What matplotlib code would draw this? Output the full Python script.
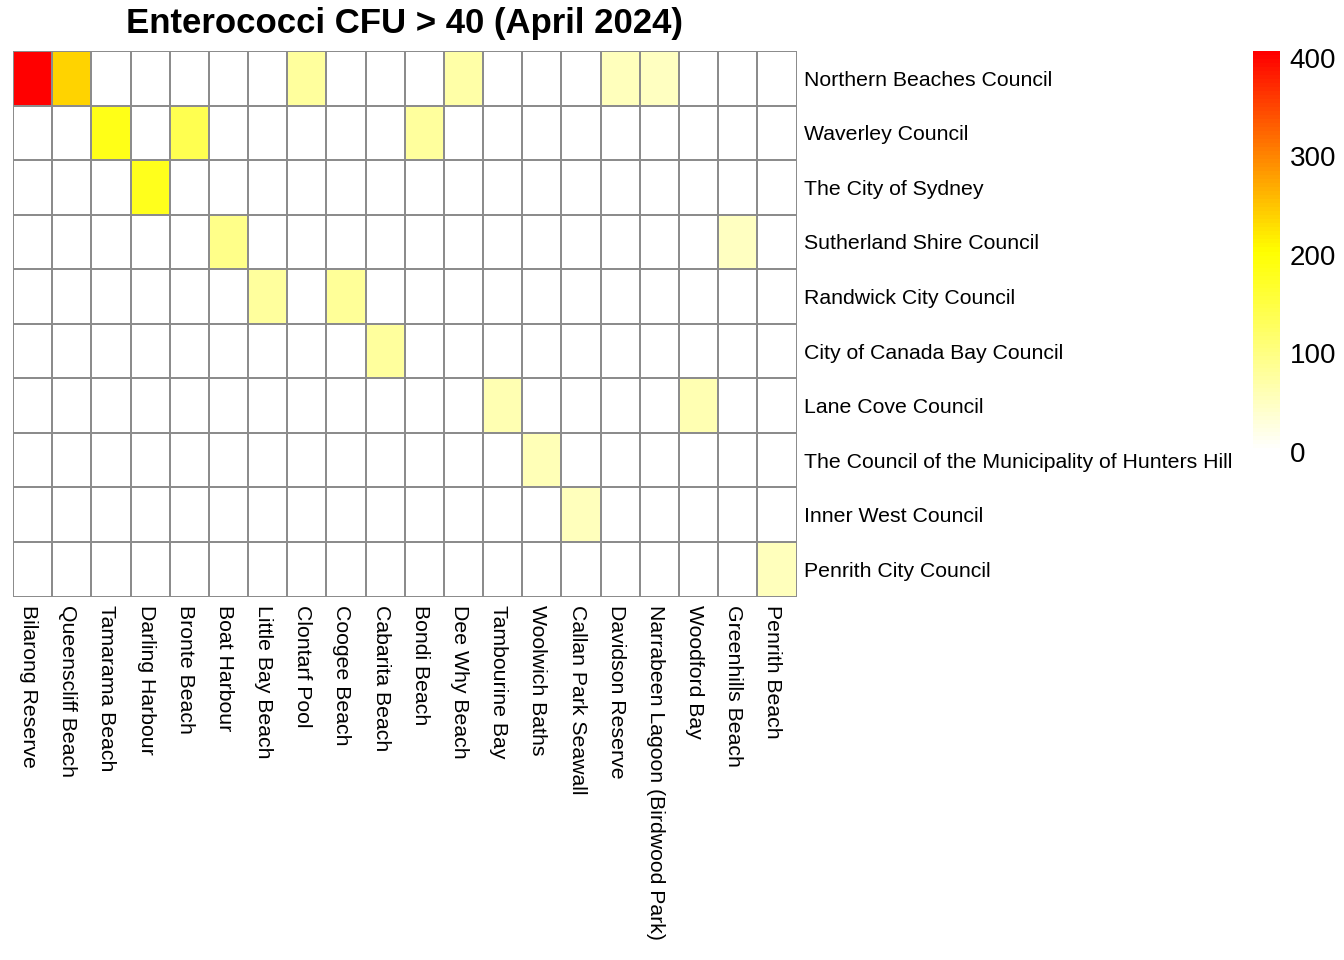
import numpy as np
import matplotlib
matplotlib.use("Agg")
import matplotlib.pyplot as plt
from matplotlib.colors import LinearSegmentedColormap
from matplotlib.transforms import ScaledTranslation

plt.rcParams["font.family"] = ["Liberation Sans", "DejaVu Sans"]

beaches = ["Bilarong Reserve", "Queenscliff Beach", "Tamarama Beach", "Darling Harbour",
           "Bronte Beach", "Boat Harbour", "Little Bay Beach", "Clontarf Pool",
           "Coogee Beach", "Cabarita Beach", "Bondi Beach", "Dee Why Beach",
           "Tambourine Bay", "Woolwich Baths", "Callan Park Seawall", "Davidson Reserve",
           "Narrabeen Lagoon (Birdwood Park)", "Woodford Bay", "Greenhills Beach", "Penrith Beach"]
councils = ["Northern Beaches Council", "Waverley Council", "The City of Sydney",
            "Sutherland Shire Council", "Randwick City Council", "City of Canada Bay Council",
            "Lane Cove Council", "The Council of the Municipality of Hunters Hill",
            "Inner West Council", "Penrith City Council"]

# one row per council, only the non-zero beaches
northern = {0: 407, 1: 240, 7: 80, 11: 70, 15: 55, 16: 50}
waverley = {2: 185, 4: 140, 10: 80}
sydney = {3: 180}
sutherland = {5: 95, 18: 50}
randwick = {6: 80, 8: 85}
canada_bay = {9: 80}
lane_cove = {12: 65, 17: 65}
hunters_hill = {13: 60}
inner_west = {14: 55}
penrith = {19: 55}
rows = [northern, waverley, sydney, sutherland, randwick, canada_bay,
        lane_cove, hunters_hill, inner_west, penrith]

vals = np.zeros((len(councils), len(beaches)))
for i, r in enumerate(rows):
    for j, v in r.items():
        vals[i, j] = v

vmax = 407
cmap = LinearSegmentedColormap.from_list("wyr", ["white", "yellow", "red"], N=100)
W, H = 1344, 960


def box(x0, y0, x1, y1):
    return [x0 / W, 1 - y1 / H, (x1 - x0) / W, (y1 - y0) / H]


fig = plt.figure(figsize=(13.44, 9.6), dpi=100)
ax = fig.add_axes(box(13, 51, 796.5, 596.5))
mesh = ax.pcolormesh(vals, cmap=cmap, vmin=0, vmax=vmax, edgecolors="#8c8c8c", linewidth=1.4)
ax.invert_yaxis()
for s in ax.spines.values():
    s.set_visible(False)

ax.yaxis.tick_right()
ax.set_yticks(np.arange(len(councils)) + 0.5, councils, fontsize=15.3)
ax.set_xticks(np.arange(len(beaches)) + 0.5, beaches, fontsize=15.3, rotation=270)
ax.tick_params(axis="y", length=0, pad=5.2)
ax.tick_params(axis="x", length=0, pad=5.8)

# rotated labels sit a few px left of the cell centre
shift = ScaledTranslation(-4 / 100, 0, fig.dpi_scale_trans)
for lab in ax.get_xticklabels():
    lab.set_transform(lab.get_transform() + shift)

ax.set_title("Enterococci CFU > 40 (April 2024)", fontsize=25, fontweight="bold", pad=13)

cax = fig.add_axes(box(1253, 51, 1280, 452))
cb = fig.colorbar(mesh, cax=cax)
cb.outline.set_visible(False)
cb.set_ticks([0, 100, 200, 300, 400])
cax.tick_params(length=0, pad=7, labelsize=20)

fig.savefig("out.png", dpi=100)
